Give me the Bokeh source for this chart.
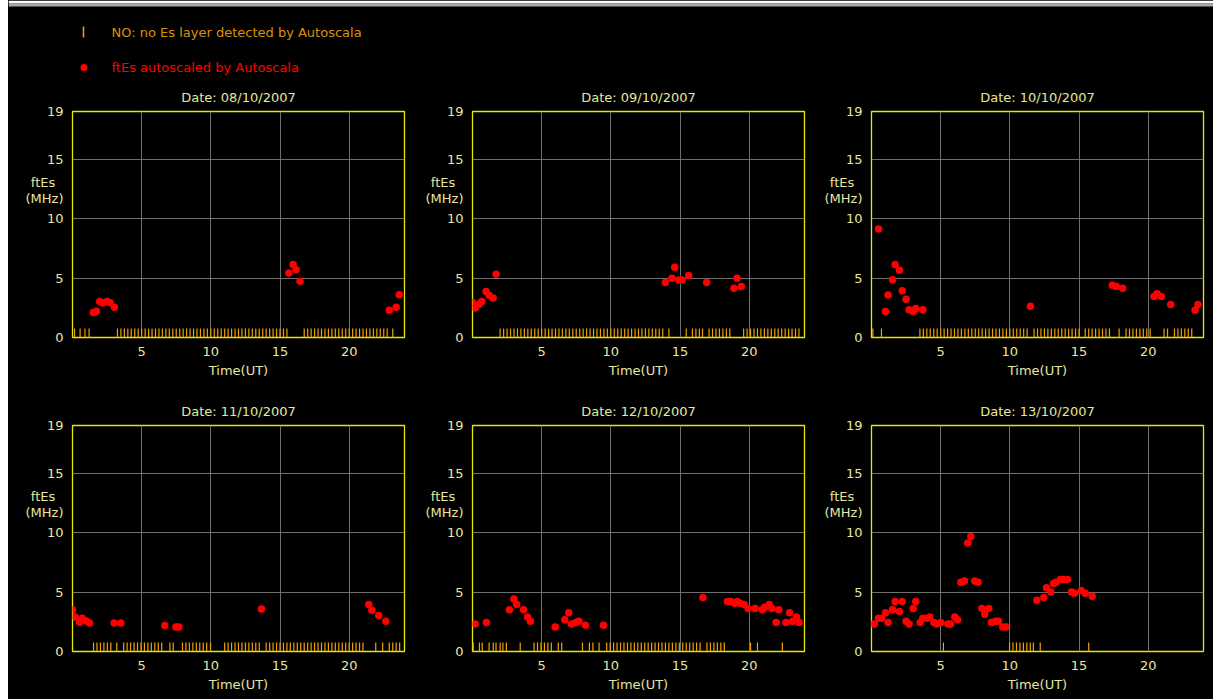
from bokeh.plotting import figure
from bokeh.layouts import column, row
from bokeh.models import Range1d, FixedTicker, Label, Spacer, BoxAnnotation
from bokeh.embed import file_html
from bokeh.resources import INLINE

# ---------------- data ----------------
dates = ["08/10/2007", "09/10/2007", "10/10/2007",
         "11/10/2007", "12/10/2007", "13/10/2007"]

x_ticks = [5, 10, 15, 20]
y_ticks = [0, 5, 10, 15, 19]
y_caption = {13: "ftEs\u00a0\u00a0", 11.65: "(MHz)"}

# ftEs autoscaled (time UT in hours, ftEs in MHz)
red_t_1 = [1.5, 1.73, 1.97, 2.21, 2.5, 2.72, 3.03, 15.64, 15.94, 16.16, 16.45, 22.9, 23.4, 23.62]
red_f_1 = [2.1, 2.2, 3.03, 2.9, 3.03, 2.93, 2.55, 5.43, 6.13, 5.69, 4.73, 2.29, 2.55, 3.59]

red_t_2 = [0.0, 0.19, 0.48, 0.67, 0.98, 1.2, 1.49, 1.71, 13.94, 14.42, 14.62, 14.93, 15.15,
           15.63, 16.93, 18.9, 19.12, 19.43]
red_f_2 = [2.92, 2.49, 2.8, 3.03, 3.87, 3.56, 3.33, 5.32, 4.62, 4.99, 5.91, 4.84, 4.84,
           5.21, 4.62, 4.15, 4.99, 4.29]

red_t_3 = [0.51, 1.01, 1.2, 1.52, 1.71, 2.02, 2.22, 2.5, 2.72, 3.01, 3.2, 3.71, 11.49,
           17.41, 17.7, 18.16, 20.42, 20.64, 20.95, 21.63, 23.39, 23.6]
red_f_3 = [9.13, 2.18, 3.58, 4.85, 6.13, 5.66, 3.92, 3.22, 2.33, 2.18, 2.44, 2.33, 2.63,
           4.4, 4.29, 4.15, 3.45, 3.67, 3.45, 2.77, 2.29, 2.77]

red_t_4 = [0.0, 0.19, 0.51, 0.7, 0.99, 1.23, 3.01, 3.49, 6.67, 7.47, 7.69, 13.66,
           21.42, 21.64, 22.14, 22.65]
red_f_4 = [3.5, 2.91, 2.46, 2.8, 2.57, 2.4, 2.4, 2.4, 2.18, 2.07, 2.07, 3.58,
           3.95, 3.47, 3.02, 2.55]

red_t_5 = [0.19, 1.01, 2.67, 2.99, 3.2, 3.69, 3.98, 4.19, 5.98, 6.67, 6.96, 7.16, 7.47,
           7.69, 8.17, 9.47, 16.65, 18.43, 18.65, 18.94, 19.13, 19.35, 19.64, 19.93,
           20.43, 20.94, 21.13, 21.45, 21.64, 21.95, 22.14, 22.65, 22.92, 23.13, 23.42, 23.61]
red_f_5 = [2.32, 2.43, 3.5, 4.42, 3.95, 3.5, 2.91, 2.55, 2.07, 2.66, 3.25, 2.32, 2.43,
           2.55, 2.21, 2.21, 4.54, 4.2, 4.2, 4.06, 4.2, 4.06, 3.95, 3.61,
           3.61, 3.5, 3.72, 3.95, 3.61, 2.43, 3.5, 2.43, 3.25, 2.55, 2.91, 2.43]

red_t_6 = [0.0, 0.22, 0.51, 0.72, 1.01, 1.2, 1.52, 1.71, 2.02, 2.22, 2.5, 2.72, 3.01,
           3.2, 3.52, 3.71, 4.02, 4.22, 4.51, 4.72, 5.01, 5.52, 5.71, 6.02, 6.22, 6.46,
           6.72, 6.96, 7.18, 7.47, 7.71, 7.98, 8.19, 8.48, 8.67, 8.96, 9.18, 9.49, 9.71,
           11.95, 12.46, 12.65, 12.96, 13.16, 13.35, 13.66, 13.86, 14.17, 14.46, 14.67,
           15.16, 15.45, 15.95]
red_f_6 = [2.32, 2.32, 2.8, 2.8, 3.25, 2.43, 3.5, 4.2, 3.36, 4.2, 2.55, 2.32, 3.61,
           4.2, 2.43, 2.8, 2.8, 2.91, 2.43, 2.32, 2.43, 2.32, 2.32, 2.91, 2.66, 5.82,
           5.93, 9.13, 9.66, 5.93, 5.82, 3.61, 3.13, 3.61, 2.43, 2.55, 2.55, 2.07, 2.07,
           4.31, 4.54, 5.35, 5.01, 5.71, 5.82, 6.05, 6.05, 6.05, 5.01, 4.9,
           5.13, 4.9, 4.65]

# NO: no Es layer detected (time UT in hours)
no_t_1 = [0.15, 0.55, 0.9, 1.2,
          3.25, 3.5, 3.75, 4.0, 4.25, 4.5, 4.75, 5.0, 5.25, 5.5, 5.75, 6.0, 6.25, 6.5,
          6.75, 7.0, 7.25, 7.5, 7.75, 8.0, 8.25, 8.5, 8.75, 9.0, 9.25, 9.5, 9.75, 10.0,
          10.25, 10.5, 10.75, 11.0, 11.25, 11.5, 11.75, 12.0, 12.25, 12.5, 12.75, 13.0,
          13.25, 13.5, 13.75, 14.0, 14.25, 14.5, 14.75, 15.0, 15.25, 15.5,
          16.75, 17.0, 17.25, 17.5, 17.75, 18.0, 18.25, 18.5, 18.75, 19.0, 19.25, 19.5,
          19.75, 20.0, 20.25, 20.5, 20.75, 21.0, 21.25, 21.5, 21.75, 22.0, 22.25, 22.5,
          22.75, 23.15]

no_t_2 = [2.0, 2.25, 2.5, 2.75, 3.0, 3.25, 3.5, 3.75, 4.0, 4.25, 4.5, 4.75, 5.0, 5.25,
          5.5, 5.75, 6.0, 6.25, 6.5, 6.75, 7.0, 7.25, 7.5, 7.75, 8.0, 8.25, 8.5, 8.75,
          9.0, 9.25, 9.5, 9.75, 10.0, 10.25, 10.5, 10.75, 11.0, 11.25, 11.5, 11.75, 12.0,
          12.25, 12.5, 12.75, 13.0, 13.25, 13.5, 13.75,
          14.2, 15.45, 15.9, 16.15, 16.4, 16.63,
          17.1, 17.35, 17.6, 17.85, 18.1, 18.35, 18.6,
          19.6, 19.85, 20.1, 20.35, 20.6, 20.85, 21.1, 21.35, 21.6, 21.85, 22.1, 22.35,
          22.6, 22.85, 23.1, 23.35, 23.6]

no_t_3 = [0.1, 0.72,
          3.5, 3.75, 4.0, 4.25, 4.5, 4.75, 5.0, 5.25, 5.5, 5.75, 6.0, 6.25, 6.5, 6.75,
          7.0, 7.25, 7.5, 7.75, 8.0, 8.25, 8.5, 8.75, 9.0, 9.25, 9.5, 9.75, 10.0, 10.25,
          10.5, 10.75, 11.0, 11.25,
          11.75, 12.0, 12.25, 12.5, 12.75, 13.0, 13.25, 13.5, 13.75, 14.0, 14.25, 14.5,
          14.75, 15.0,
          15.45, 15.7, 15.95, 16.2, 16.45, 16.7, 16.95, 17.2, 17.9,
          18.4, 18.65, 18.9, 19.15, 19.4, 19.65, 19.9, 20.15,
          21.15, 21.4, 21.9, 22.15, 22.4, 22.65, 22.9, 23.15]

no_t_4 = [1.52, 1.77, 2.02, 2.27, 2.52, 2.77, 3.2,
          3.7, 3.95, 4.2, 4.45, 4.7, 4.95, 5.2, 5.45, 5.7, 5.95, 6.2, 6.45,
          7.04, 7.28, 7.95, 8.2, 8.45, 8.7, 8.95, 9.2, 9.45, 9.7, 9.98,
          11.0, 11.25, 11.5, 11.75, 12.0, 12.25, 12.5, 12.75, 13.0, 13.25, 13.5,
          14.0, 14.25, 14.5, 14.75, 15.0, 15.25, 15.5, 15.75, 16.0, 16.25, 16.5, 16.75,
          17.0, 17.25, 17.5, 17.75, 18.0, 18.25, 18.5, 18.75, 19.0, 19.25, 19.5, 19.75,
          20.0, 20.25, 20.5, 20.75, 21.0,
          21.92, 22.42, 22.9, 23.15, 23.4, 23.65]

no_t_5 = [0.05, 0.5, 0.7, 1.2, 1.5, 1.7, 2.0, 2.2, 2.45, 3.45, 4.45, 4.7, 4.95, 5.2,
          5.45, 5.7, 6.2, 6.45, 7.95, 8.45, 8.7, 9.15, 9.7,
          9.95, 10.2, 10.45, 10.7, 10.95, 11.2, 11.45, 11.7, 11.95, 12.2, 12.45, 12.7,
          12.95, 13.2, 13.45, 13.7, 13.95, 14.2, 14.45, 14.7, 14.95, 15.2, 15.45, 15.7,
          15.95, 16.2, 16.45, 16.95, 17.2, 17.45, 17.7, 17.95, 18.2,
          20.1, 20.6, 22.4]

no_t_6 = [5.2, 9.98, 10.23, 10.48, 10.73, 10.98, 11.23, 11.48, 11.7, 12.2, 15.7]

red_t = [red_t_1, red_t_2, red_t_3, red_t_4, red_t_5, red_t_6]
red_f = [red_f_1, red_f_2, red_f_3, red_f_4, red_f_5, red_f_6]
no_t = [no_t_1, no_t_2, no_t_3, no_t_4, no_t_5, no_t_6]

# ---------------- style ----------------
FONT = "DejaVu Sans"
FS = "13px"
TXT = "#E6E6A0"
YEL = "#E8E800"
GRID = "#707070"
ORANGE = "#F0A000"
ORANGE_TXT = "#DC9200"
RED = "#FF0000"
BG = "black"

NO_HEIGHT = 0.75  # MHz, height of a "NO" tick

FRAME_W = 332
LEFT = 64


def panel(i, width, height, bottom):
    p = figure(width=width, height=height,
               x_range=Range1d(0, 24), y_range=Range1d(0, 19),
               output_backend="svg", toolbar_location=None,
               min_border_left=LEFT, min_border_right=width - LEFT - FRAME_W,
               min_border_top=33, min_border_bottom=bottom,
               background_fill_color=BG, border_fill_color=BG,
               outline_line_color=YEL, outline_line_width=1.3,
               title="Date: " + dates[i])
    p.title.align = "center"
    p.title.text_font = FONT
    p.title.text_font_size = FS
    p.title.text_font_style = "normal"
    p.title.text_color = TXT
    p.title.standoff = 13

    p.xaxis.ticker = FixedTicker(ticks=x_ticks)
    p.yaxis.ticker = FixedTicker(ticks=y_ticks + list(y_caption.keys()))
    p.yaxis.major_label_overrides = y_caption
    p.xgrid.ticker = FixedTicker(ticks=x_ticks)
    p.ygrid.ticker = FixedTicker(ticks=[5, 10, 15])
    p.grid.grid_line_color = GRID
    p.grid.grid_line_width = 1

    for ax in (p.xaxis, p.yaxis):
        ax.axis_line_color = None
        ax.major_tick_line_color = None
        ax.minor_tick_line_color = None
        ax.major_tick_out = 0
        ax.major_tick_in = 0
        ax.major_label_text_font = FONT
        ax.major_label_text_font_size = FS
        ax.major_label_text_color = TXT
    p.xaxis.major_label_standoff = 9
    p.yaxis.major_label_standoff = 9
    p.xaxis.axis_label = "Time(UT)"
    p.xaxis.axis_label_text_font = FONT
    p.xaxis.axis_label_text_font_size = FS
    p.xaxis.axis_label_text_font_style = "normal"
    p.xaxis.axis_label_text_color = TXT
    p.xaxis.axis_label_standoff = 4

    nt = no_t[i]
    p.segment(x0=nt, y0=[0] * len(nt), x1=nt, y1=[NO_HEIGHT] * len(nt),
              line_color=ORANGE, line_width=1.2)
    p.scatter(x=red_t[i], y=red_f[i], marker="circle", size=7.5,
              fill_color=RED, line_color=None)
    return p


# legend strip (pixel coordinates, y downwards), spans page x 8..1213, y 0..78
leg = figure(width=1205, height=78, x_range=Range1d(0, 1205), y_range=Range1d(78, 0),
             output_backend="svg", toolbar_location=None,
             x_axis_type=None, y_axis_type=None, min_border=0,
             background_fill_color=BG, border_fill_color=BG, outline_line_color=None)
leg.grid.visible = False
leg.add_layout(BoxAnnotation(top=0, bottom=3, fill_color="white", fill_alpha=1,
                             line_color=None))
leg.add_layout(BoxAnnotation(top=3, bottom=6, fill_color="#A8A8A8", fill_alpha=1,
                             line_color=None))
leg.segment(x0=[75], y0=[26], x1=[75], y1=[37], line_color=ORANGE, line_width=1.5)
leg.scatter(x=[75.5], y=[67], marker="circle", size=7, fill_color=RED, line_color=None)
leg.add_layout(Label(x=103, y=32, text="NO: no Es layer detected by Autoscala",
                     text_baseline="middle", text_font=FONT, text_font_size=FS,
                     text_color=ORANGE_TXT))
leg.add_layout(Label(x=103, y=67, text="ftEs autoscaled by Autoscala",
                     text_baseline="middle", text_font=FONT, text_font_size=FS,
                     text_color=RED))

widths = [400, 399, 406]
row1 = row([panel(k, widths[k], 314, 55) for k in range(3)], spacing=0)
row2 = row([panel(3 + k, widths[k], 307, 48) for k in range(3)], spacing=0)
main = column([leg, row1, row2], spacing=0)
left_strip = Spacer(width=8, height=699, styles={"background-color": "white"})
layout = row([left_strip, main], spacing=0)

html = file_html(layout, INLINE)
html = html.replace("</head>", "<style>html, body { background: #000000 !important; }</style></head>", 1)
open("out.html", "w").write(html)
